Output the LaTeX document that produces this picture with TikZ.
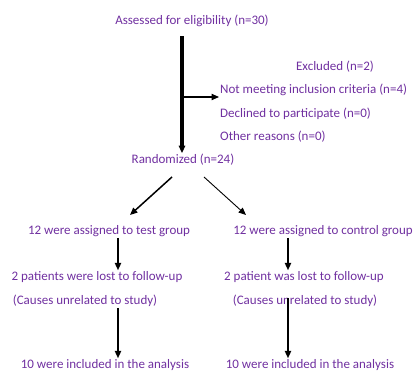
\documentclass[tikz,border=0pt]{standalone}
\usepackage{fontspec}
\setmainfont{Carlito}
\usetikzlibrary{arrows.meta}
\definecolor{txtP}{HTML}{7030A0}

\begin{document}
\begin{tikzpicture}[x=1pt,y=-1pt,
  every node/.style={font=\fontsize{13}{15}\selectfont,text=txtP,inner sep=1pt},
  >={Triangle[length=2.6mm,width=2.2mm]},
  flow/.style={->,line width=1.6pt},
  mainflow/.style={->,line width=3.2pt}]
  \useasboundingbox (0,0) rectangle (416,374);
  % enrolment
  \node (assess) at (192,21) {Assessed for eligibility (n=30)};
  \node (excl) at (335,67) {Excluded (n=2)};
  \node[anchor=west] (notmeet) at (219,90) {Not meeting inclusion criteria (n=4)};
  \node[anchor=west] (decl) at (219,114) {Declined to participate (n=0)};
  \node[anchor=west] (other) at (219,137) {Other reasons (n=0)};
  \node (random) at (183,160) {Randomized (n=24)};
  \coordinate (xm) at (182,0);
  \draw[mainflow] (assess.south -| xm) ++(0,8) -- (random.north -| xm);
  \coordinate (split) at (182,97);
  \draw[flow,line width=1.2pt] (split) -- (notmeet.west |- split);
  % allocation
  \node (test) at (109,231) {12 were assigned to test group};
  \node (ctrl) at (323,231) {12 were assigned to control group};
  \draw[->,line width=1.5pt] (172,177) -- (130,215);
  \draw[->,line width=0.9pt] (204,177) -- (246,215);
  % follow-up
  \node (lostL) at (97,277) {2 patients were lost to follow-up};
  \node (lostR) at (304,277) {2 patient was lost to follow-up};
  \node (causeL) at (85,301) {(Causes unrelated to study)};
  \node (causeR) at (305,301) {(Causes unrelated to study)};
  \coordinate (xl) at (118,0);
  \coordinate (xr) at (288,0);
  \draw[flow] (test.south -| xl) -- (lostL.north -| xl);
  \draw[flow] (ctrl.south -| xr) -- (lostR.north -| xr);
  % analysis
  \node (inclL) at (105,365) {10 were included in the analysis};
  \node (inclR) at (310,365) {10 were included in the analysis};
  \draw[flow] (causeL.south -| xl) -- (inclL.north -| xl);
  \draw[flow] (lostR.south -| xr) ++(0,14) -- (inclR.north -| xr);
\end{tikzpicture}
\end{document}
